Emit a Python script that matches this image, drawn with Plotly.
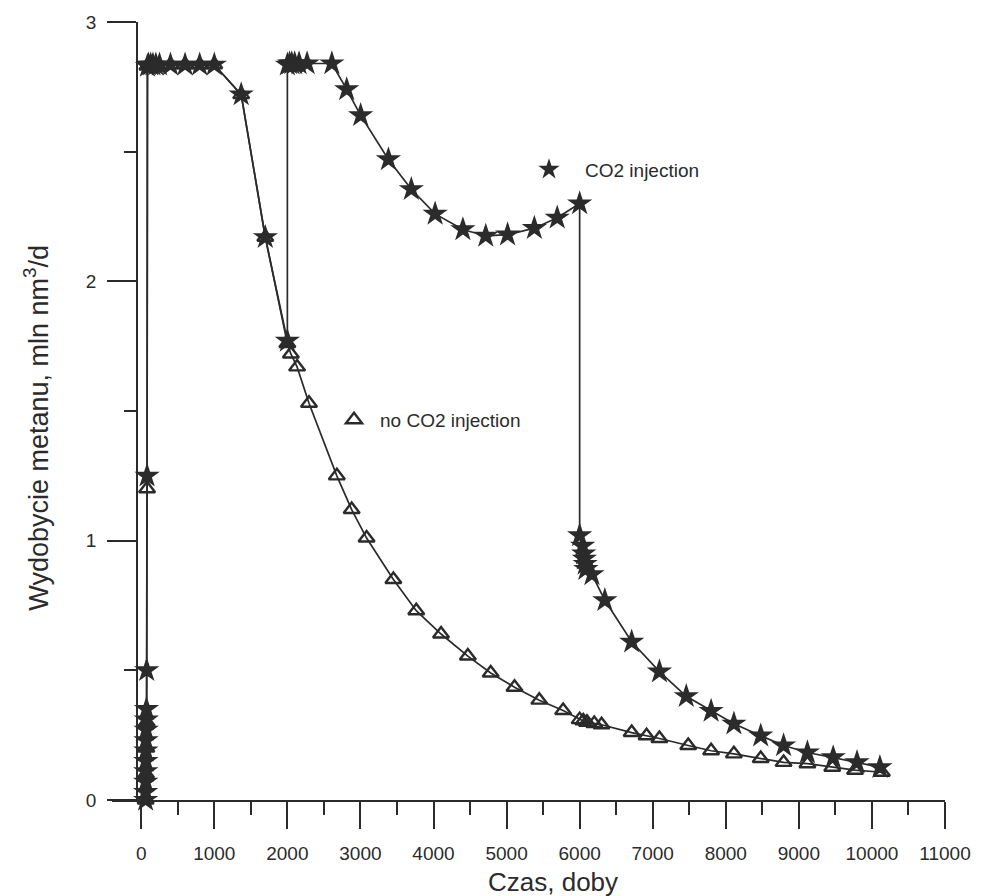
import plotly.graph_objects as go

# ---- data ----
# CO2 injection series (stars)
co2_x = [60, 60, 62, 62, 64, 64, 66, 68, 70, 72, 75, 80, 85,
         100, 130, 160, 200, 250, 400, 600, 800, 1000,
         1368, 1698, 2000,
         2000, 2030, 2060, 2100, 2160, 2270, 2609,
         2812, 3003, 3383, 3696, 4022, 4402, 4715, 5014, 5380, 5693, 6000,
         6000, 6040, 6055, 6065, 6075, 6085, 6168, 6345, 6712, 7092, 7459,
         7799, 8111, 8478, 8791, 9117, 9470, 9796, 10109]
co2_y = [0.0, 0.03, 0.07, 0.11, 0.15, 0.19, 0.23, 0.27, 0.31, 0.35, 0.50, 1.25, 2.83,
         2.835, 2.835, 2.835, 2.835, 2.835, 2.835, 2.835, 2.835, 2.835,
         2.72, 2.17, 1.77,
         2.835, 2.84, 2.84, 2.84, 2.84, 2.84, 2.84,
         2.74, 2.64, 2.47, 2.355, 2.26, 2.20, 2.175, 2.18, 2.205, 2.245, 2.30,
         1.02, 0.98, 0.95, 0.93, 0.91, 0.89, 0.87, 0.77, 0.61, 0.495, 0.40,
         0.343, 0.294, 0.248, 0.21, 0.183, 0.164, 0.145, 0.126]

# no CO2 injection series (triangles)
noco2_x = [60, 65, 70, 75, 80, 85,
           100, 200, 400, 600, 800, 1000,
           1368, 1698, 2000, 2048, 2133, 2296, 2677, 2880, 3084, 3451, 3764,
           4103, 4470, 4783, 5109, 5448, 5774, 6000, 6050, 6100, 6200, 6300,
           6712, 6916, 7092, 7486, 7799, 8111, 8478, 8791, 9117, 9457, 9769, 10136]
noco2_y = [0.0, 0.1, 0.2, 0.3, 1.2, 2.83,
           2.835, 2.835, 2.835, 2.835, 2.835, 2.835,
           2.72, 2.17, 1.76, 1.72, 1.67, 1.53, 1.25, 1.12, 1.01, 0.85, 0.73,
           0.64, 0.555, 0.49, 0.435, 0.385, 0.345, 0.31, 0.305, 0.30, 0.295, 0.29,
           0.26, 0.248, 0.237, 0.21, 0.19, 0.178, 0.16, 0.145, 0.14, 0.126, 0.115, 0.107]

x_ticks = list(range(0, 11001, 1000))
x_tick_labels = [str(v) for v in x_ticks]
y_ticks = [0, 1, 2, 3]
y_tick_labels = ["0", "1", "2", "3"]
x_title = "Czas, doby"
y_title = "Wydobycie metanu, mln nm<sup>3</sup>/d"

INK = "#2b2b2b"
FONT = "Liberation Sans, Arial, sans-serif"
STAR = dict(symbol="star", size=19, color=INK, line=dict(width=0))
TRI = dict(symbol="triangle-up-open", size=14, color=INK, line=dict(width=2.4, color=INK))

fig = go.Figure()

fig.add_trace(go.Scatter(
    x=noco2_x, y=noco2_y, mode="lines+markers", name="no CO2 injection",
    line=dict(color=INK, width=1.7), marker=TRI,
    cliponaxis=False, showlegend=False))

fig.add_trace(go.Scatter(
    x=co2_x, y=co2_y, mode="lines+markers", name="CO2 injection",
    line=dict(color=INK, width=1.7), marker=STAR,
    cliponaxis=False, showlegend=False))

# legend keys
fig.add_trace(go.Scatter(
    x=[None], y=[None], mode="markers", name="CO2 injection",
    marker=STAR, legend="legend", showlegend=True))
fig.add_trace(go.Scatter(
    x=[None], y=[None], mode="markers", name="no CO2 injection",
    marker=TRI, legend="legend2", showlegend=True))

L, R, T, B = 112, 51, 14, 96
W, H = 996, 896
pw, ph = W - L - R, H - T - B
XMIN, XMAX = -400, 11000


def px2paper_x(p):
    return (p - L) / pw


def px2paper_y(p):
    return (H - B - p) / ph


fig.update_layout(
    width=W, height=H,
    margin=dict(l=L, r=R, t=T, b=B),
    paper_bgcolor="white", plot_bgcolor="white",
    font=dict(family=FONT, color=INK, size=19),
    xaxis=dict(
        range=[XMIN, XMAX], showgrid=False, zeroline=False,
        showline=True, linecolor=INK, linewidth=1.6,
        tickmode="array", tickvals=x_ticks, ticktext=x_tick_labels,
        ticks="outside", ticklen=27, tickwidth=1.5, tickcolor=INK,
        ticklabelstandoff=8,
        tickfont=dict(size=19, family=FONT, color=INK),
        minor=dict(dtick=500, tick0=0, ticks="outside", ticklen=13, tickwidth=1.5, tickcolor=INK),
    ),
    yaxis=dict(
        range=[0, 3], showgrid=False, zeroline=False,
        anchor="free", position=0.03,
        showline=True, linecolor=INK, linewidth=1.6,
        tickmode="array", tickvals=y_ticks, ticktext=y_tick_labels,
        ticks="outside", ticklen=29, tickwidth=1.5, tickcolor=INK,
        ticklabelstandoff=7,
        tickfont=dict(size=19, family=FONT, color=INK),
        minor=dict(dtick=0.5, tick0=0, ticks="outside", ticklen=12, tickwidth=1.5, tickcolor=INK),
    ),
    legend=dict(x=px2paper_x(513), y=px2paper_y(163), xanchor="left", yanchor="middle",
                bgcolor="rgba(0,0,0,0)", font=dict(size=19, family=FONT, color=INK),
                itemwidth=62),
    legend2=dict(x=px2paper_x(328), y=px2paper_y(416), xanchor="left", yanchor="middle",
                 bgcolor="rgba(0,0,0,0)", font=dict(size=19, family=FONT, color=INK),
                 itemwidth=42),
    annotations=[
        dict(text=x_title, xref="paper", yref="paper",
             x=px2paper_x(553), y=px2paper_y(883), xanchor="center", yanchor="middle",
             showarrow=False, font=dict(size=26, family=FONT, color=INK)),
        dict(text=y_title, xref="paper", yref="paper", textangle=-90,
             x=px2paper_x(36), y=px2paper_y(424), xanchor="center", yanchor="middle",
             showarrow=False, font=dict(size=27, family=FONT, color=INK)),
    ],
)

fig.write_html("out.html", config={"displayModeBar": False},
               post_script="document.body.style.margin='0';")
